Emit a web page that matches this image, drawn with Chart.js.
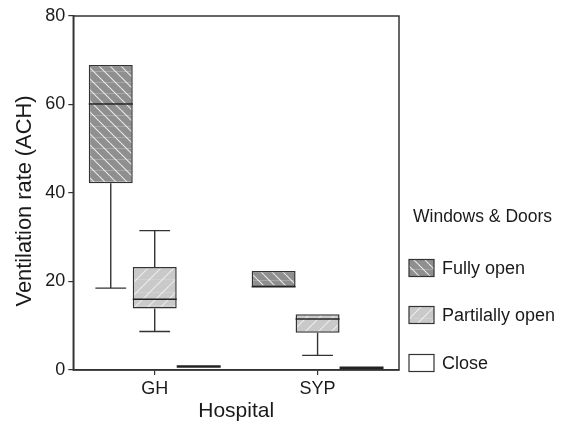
<!DOCTYPE html>
<html>
<head>
<meta charset="utf-8">
<script src="https://cdn.jsdelivr.net/npm/chart.js@4.4.1/dist/chart.umd.min.js"></script>
<style>
  html, body { margin: 0; padding: 0; background: #ffffff; }
  #wrap { width: 573px; height: 423px; }
</style>
</head>
<body>
<div id="wrap"><canvas id="chart" width="573" height="423"></canvas></div>
<script>
// Ventilation rate (ACH) by hospital and window/door state
const categories = ['GH', 'SYP'];
const seriesNames = ['Fully open', 'Partilally open', 'Close'];
const yTicks = [0, 20, 40, 60, 80];
const yTitle = 'Ventilation rate (ACH)';
const xTitle = 'Hospital';
const legendTitle = 'Windows & Doors';

// Box statistics per hospital: [GH, SYP]
const fullyMin    = [18.5, 18.8];
const fullyQ1     = [42.2, 18.8];
const fullyMedian = [60.1, 18.8];
const fullyQ3     = [68.9, 22.4];
const fullyMax    = [68.9, 22.4];

const partialMin    = [8.7, 3.3];
const partialQ1     = [13.9, 8.4];
const partialMedian = [16.0, 11.5];
const partialQ3     = [23.3, 12.6];
const partialMax    = [31.5, 12.6];

const closeMin    = [0.8, 0.5];
const closeQ1     = [0.8, 0.5];
const closeMedian = [0.8, 0.5];
const closeQ3     = [0.8, 0.5];
const closeMax    = [0.8, 0.5];

const stats = [
  { min: fullyMin, q1: fullyQ1, med: fullyMedian, q3: fullyQ3, max: fullyMax },
  { min: partialMin, q1: partialQ1, med: partialMedian, q3: partialQ3, max: partialMax },
  { min: closeMin, q1: closeQ1, med: closeMedian, q3: closeQ3, max: closeMax }
];

const FONT = '"Liberation Sans", Arial, Helvetica, sans-serif';
const INK = '#1a1a1a';
const EDGE = '#333333';

// Hatched fills for the box bodies
function hatch(base, dir, s, lineAlpha, rowAlpha) {
  const c = document.createElement('canvas');
  c.width = s; c.height = s;
  const g = c.getContext('2d');
  g.fillStyle = base;
  g.fillRect(0, 0, s, s);
  g.strokeStyle = 'rgba(255,255,255,' + rowAlpha + ')';
  g.lineWidth = 1;
  g.beginPath();
  g.moveTo(0, Math.floor(s / 2) + 0.5); g.lineTo(s, Math.floor(s / 2) + 0.5);
  g.stroke();
  g.strokeStyle = 'rgba(255,255,255,' + lineAlpha + ')';
  g.lineWidth = 1.1;
  g.beginPath();
  for (let k = -1; k <= 1; k++) {
    if (dir === 'back') {
      g.moveTo(k * s, 0); g.lineTo(k * s + s, s);
    } else {
      g.moveTo(k * s, s); g.lineTo(k * s + s, 0);
    }
  }
  g.stroke();
  return g.createPattern(c, 'repeat');
}

const fills = [
  hatch('#8f8f8f', 'back', 11, 0.8, 0.22),
  hatch('#c9c9c9', 'fwd', 13, 0.65, 0.15),
  '#ffffff'
];

const datasets = stats.map((st, i) => ({
  label: seriesNames[i],
  data: categories.map((_, j) => [st.q1[j], st.q3[j]]),
  backgroundColor: fills[i],
  borderColor: EDGE,
  borderWidth: 1.5,
  borderSkipped: false,
  categoryPercentage: 0.81,
  barPercentage: 1.0
}));

// Whiskers, caps, medians, frame, y title and legend
const boxParts = {
  id: 'boxParts',
  afterDatasetsDraw(chart) {
    const ctx = chart.ctx;
    const y = chart.scales.y;
    ctx.save();
    stats.forEach((st, i) => {
      const meta = chart.getDatasetMeta(i);
      meta.data.forEach((bar, j) => {
        const { x, width } = bar.getProps(['x', 'width'], true);
        const cap = width * 0.7;
        const pMin = y.getPixelForValue(st.min[j]);
        const pQ1 = y.getPixelForValue(st.q1[j]);
        const pQ3 = y.getPixelForValue(st.q3[j]);
        const pMax = y.getPixelForValue(st.max[j]);
        const pMed = y.getPixelForValue(st.med[j]);
        ctx.strokeStyle = EDGE;
        ctx.lineWidth = 1.4;
        ctx.beginPath();
        if (st.min[j] < st.q1[j]) {
          ctx.moveTo(x, pQ1); ctx.lineTo(x, pMin);
          ctx.moveTo(x - cap / 2, pMin); ctx.lineTo(x + cap / 2, pMin);
        }
        if (st.max[j] > st.q3[j]) {
          ctx.moveTo(x, pQ3); ctx.lineTo(x, pMax);
          ctx.moveTo(x - cap / 2, pMax); ctx.lineTo(x + cap / 2, pMax);
        }
        ctx.stroke();
        const flat = st.q1[j] === st.q3[j];
        ctx.strokeStyle = '#222222';
        ctx.lineWidth = flat ? 2.6 : 1.5;
        ctx.beginPath();
        ctx.moveTo(x - width / 2, pMed); ctx.lineTo(x + width / 2, pMed);
        ctx.stroke();
      });
    });
    ctx.restore();
  },
  afterDraw(chart) {
    const ctx = chart.ctx;
    const a = chart.chartArea;
    ctx.save();
    // plot frame
    ctx.strokeStyle = EDGE;
    ctx.lineWidth = 1.5;
    ctx.strokeRect(a.left, a.top, a.right - a.left, a.bottom - a.top);
    // y axis title
    ctx.save();
    ctx.translate(24.5, (a.top + a.bottom) / 2 + 8);
    ctx.rotate(-Math.PI / 2);
    ctx.fillStyle = INK;
    ctx.font = '21.8px ' + FONT;
    ctx.textAlign = 'center';
    ctx.textBaseline = 'middle';
    ctx.fillText(yTitle, 0, 0);
    ctx.restore();
    // legend
    const lx = a.right + 10;
    ctx.fillStyle = INK;
    ctx.textBaseline = 'middle';
    ctx.textAlign = 'left';
    ctx.font = '17.5px ' + FONT;
    ctx.fillText(legendTitle, a.right + 14, a.bottom - 153);
    ctx.font = '18px ' + FONT;
    const rows = [a.bottom - 102, a.bottom - 55, a.bottom - 7];
    chart.data.datasets.forEach((ds, i) => {
      const cy = rows[i];
      ctx.fillStyle = ds.backgroundColor;
      ctx.fillRect(lx, cy - 8.5, 25, 17);
      ctx.strokeStyle = EDGE;
      ctx.lineWidth = 1.2;
      ctx.strokeRect(lx, cy - 8.5, 25, 17);
      ctx.fillStyle = INK;
      ctx.fillText(ds.label, lx + 33, cy + 1);
    });
    ctx.restore();
  }
};

new Chart(document.getElementById('chart'), {
  type: 'bar',
  data: { labels: categories, datasets },
  plugins: [boxParts],
  options: {
    responsive: false,
    animation: false,
    layout: { padding: { top: 16, right: 174, bottom: 0, left: 0 } },
    plugins: { legend: { display: false }, tooltip: { enabled: false } },
    scales: {
      x: {
        offset: true,
        grid: { display: true, drawOnChartArea: false, offset: false, tickLength: 5, color: EDGE, lineWidth: 1.2 },
        border: { display: true, color: EDGE, width: 1.5 },
        ticks: { color: INK, font: { family: FONT, size: 18 }, padding: 3 },
        title: { display: true, text: xTitle, color: INK, font: { family: FONT, size: 21, lineHeight: 1 }, padding: { top: 0, bottom: 1 } },
        afterFit(s) { s.height = 53; }
      },
      y: {
        min: 0,
        max: 80,
        afterBuildTicks(s) { s.ticks = yTicks.map(v => ({ value: v })); },
        grid: { display: true, drawOnChartArea: false, tickLength: 5, color: EDGE, lineWidth: 1.2 },
        border: { display: true, color: EDGE, width: 1.5 },
        ticks: { color: INK, font: { family: FONT, size: 18 }, padding: 3 },
        title: { display: false },
        afterFit(s) { s.width = 73.3; }
      }
    }
  }
});
</script>
</body>
</html>
